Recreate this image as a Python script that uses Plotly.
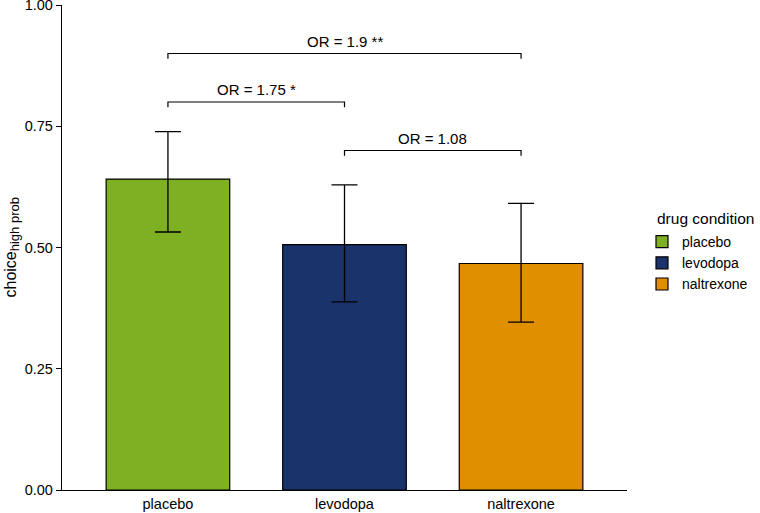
import plotly.graph_objects as go

categories = ["placebo", "levodopa", "naltrexone"]
means = [0.641, 0.506, 0.467]
ci_low = [0.532, 0.388, 0.346]
ci_high = [0.739, 0.629, 0.591]
colors = ["#7FAF23", "#1A336B", "#E08F00"]

# comparison brackets: (from index, to index, y level, label)
bracket_from = [0, 0, 1]
bracket_to = [2, 1, 2]
bracket_y = [0.90, 0.80, 0.70]
bracket_labels = ["OR = 1.9 **", "OR = 1.75 *", "OR = 1.08"]

yticks = [0.0, 0.25, 0.5, 0.75, 1.0]
ytick_text = ["0.00", "0.25", "0.50", "0.75", "1.00"]

FONT = "Liberation Sans, Arial, Helvetica, sans-serif"
PW = 760 - 62 - 133  # plot width in px
PH = 513 - 5 - 23

fig = go.Figure()
for i, cat in enumerate(categories):
    fig.add_trace(go.Bar(
        x=[i], y=[means[i]], name=cat, width=0.7,
        marker=dict(color=colors[i], line=dict(color="black", width=1.2)),
        error_y=dict(type="data", symmetric=False,
                     array=[ci_high[i] - means[i]],
                     arrayminus=[means[i] - ci_low[i]],
                     color="black", thickness=1.3, width=13),
    ))

tick_len = 0.011
for a, b, yv, lab in zip(bracket_from, bracket_to, bracket_y, bracket_labels):
    fig.add_shape(type="path", xref="x", yref="y",
                  path=f"M {a},{yv - tick_len} L {a},{yv} L {b},{yv} L {b},{yv - tick_len}",
                  line=dict(color="black", width=1.2))
    fig.add_annotation(x=(a + b) / 2, y=yv, xref="x", yref="y", text=lab,
                       showarrow=False, yanchor="bottom", yshift=2,
                       font=dict(size=15, color="black", family=FONT))

fig.add_annotation(text='choice<sub><span style="font-size:13px">high prob</span></sub>',
                   xref="paper", yref="paper",
                   x=-(62 - 11) / PW, y=0.5, textangle=-90, showarrow=False,
                   xanchor="center", yanchor="middle",
                   font=dict(size=16, color="black", family=FONT))

# legend title
fig.add_annotation(text="drug condition", xref="paper", yref="paper",
                   x=(655 - 62) / PW, y=(490 - 218) / PH, xanchor="left", yanchor="middle",
                   showarrow=False, font=dict(size=15.5, color="black", family=FONT))

fig.update_layout(
    width=760, height=513,
    margin=dict(l=62, r=133, t=5, b=23, autoexpand=False),
    plot_bgcolor="white", paper_bgcolor="white",
    font=dict(family=FONT, size=14.5, color="black"),
    bargap=0.3,
    legend=dict(x=(642 - 62) / PW, y=(490 - 226) / PH, xanchor="left", yanchor="top",
                font=dict(size=14), itemwidth=30, tracegroupgap=0,
                bgcolor="rgba(0,0,0,0)"),
    xaxis=dict(range=[-0.6, 2.6], tickvals=[0, 1, 2], ticktext=categories,
               showline=True, linecolor="black", linewidth=1.3, automargin=False,
               showgrid=False, zeroline=False, ticks="", fixedrange=True,
               ticklabeloverflow="allow"),
    yaxis=dict(range=[0, 1], tickvals=yticks, ticktext=ytick_text, automargin=False,
               showline=True, linecolor="black", linewidth=1.3,
               showgrid=False, zeroline=False, ticks="outside", ticklen=5,
               tickcolor="black", tickwidth=1.3, ticklabeloverflow="allow"),
)

fig.write_html("out.html", config={"displayModeBar": False},
               post_script="document.body.style.margin='0';document.body.style.padding='0';")
